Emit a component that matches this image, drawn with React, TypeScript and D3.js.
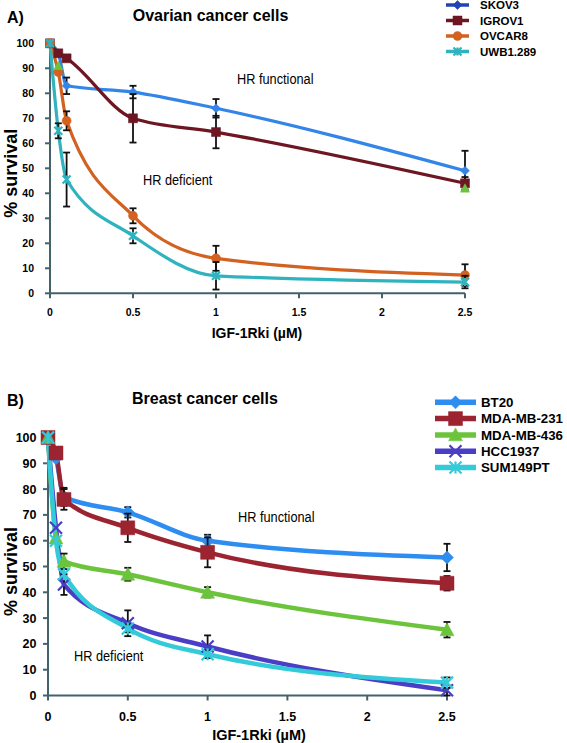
import React from "react";
import * as d3 from "d3";

// ---------- data ----------
const DOSES = [0, 0.05, 0.1, 0.5, 1, 2.5];
const X_TICKS = [0, 0.5, 1, 1.5, 2, 2.5];
const X_TICK_LABELS = ["0", "0.5", "1", "1.5", "2", "2.5"];
const Y_TICKS = [0, 10, 20, 30, 40, 50, 60, 70, 80, 90, 100];

const OVARIAN_TITLE = "Ovarian cancer cells";
const OVARIAN_NAMES = ["SKOV3", "IGROV1", "OVCAR8", "UWB1.289"];
const SKOV3 = [100, 96, 83, 80.5, 74, 49];
const SKOV3_SD = [0, 0, 3.3, 2.5, 3.7, 8];
const IGROV1 = [100, 96, 94, 70, 64.5, 44];
const IGROV1_SD = [0, 0, 0, 9.7, 6.5, 2.5];
const OVCAR8 = [100, 88.5, 69, 31, 14, 7.3];
const OVCAR8_SD = [0, 0, 3.8, 3, 5, 4.3];
const UWB1289 = [100, 65, 45.5, 23, 7, 4.5];
const UWB1289_SD = [0, 3, 10.8, 3, 5.5, 2.5];
const OVARIAN_EXTRA_X = [0.05, 2.5];
const OVARIAN_EXTRA_Y = [91, 42];

const BREAST_TITLE = "Breast cancer cells";
const BREAST_NAMES = ["BT20", "MDA-MB-231", "MDA-MB-436", "HCC1937", "SUM149PT"];
const BT20 = [100, 92, 77, 71, 60, 53.5];
const BT20_SD = [0, 0, 3.5, 2, 2.3, 5.3];
const MDAMB231 = [100, 94, 76, 65, 55.5, 43.5];
const MDAMB231_SD = [0, 0, 4, 5.5, 5.8, 2.8];
const MDAMB436 = [100, 61, 52, 47, 40, 25.5];
const MDAMB436_SD = [0, 0, 3, 2.5, 2, 3];
const HCC1937 = [100, 65, 43, 28, 19, 2];
const HCC1937_SD = [0, 0, 4, 5, 4.3, 2];
const SUM149PT = [100, 60, 47, 26, 16, 5];
const SUM149PT_SD = [0, 0, 0, 1.5, 1.5, 2];

const X_LABEL = "IGF-1Rki (\u00b5M)";
const Y_LABEL = "% survival";
const HR_FUNCTIONAL = "HR functional";
const HR_DEFICIENT = "HR deficient";

// ---------- helpers ----------
type Shape = "diamond" | "square" | "circle" | "triangle" | "x" | "asterisk";

function markerPath(shape: Shape, s: number): string {
  switch (shape) {
    case "diamond":
      return `M0,${-s}L${s},0L0,${s}L${-s},0Z`;
    case "square":
      return `M${-s},${-s}h${2 * s}v${2 * s}h${-2 * s}Z`;
    case "circle":
      return d3.symbol().type(d3.symbolCircle).size(Math.PI * s * s)() as string;
    case "triangle":
      return `M0,${-s}L${s},${s * 0.85}L${-s},${s * 0.85}Z`;
    case "x":
      return `M${-s},${-s}L${s},${s}M${-s},${s}L${s},${-s}`;
    case "asterisk":
      return `M${-s},${-s}L${s},${s}M${-s},${s}L${s},${-s}M0,${-s}L0,${s}`;
  }
}

function Marker({ shape, s, color, x, y }: { shape: Shape; s: number; color: string; x: number; y: number }) {
  const stroked = shape === "x" || shape === "asterisk";
  return (
    <path
      d={markerPath(shape, s)}
      transform={`translate(${x},${y})`}
      fill={stroked ? "none" : color}
      stroke={color}
      strokeWidth={stroked ? 2.2 : 0.5}
    />
  );
}

interface Series {
  name: string;
  values: number[];
  sd: number[];
  color: string;
  legendColor: string;
  shape: Shape;
  size: number;
}

interface PanelProps {
  letter: string;
  title: string;
  series: Series[];
  x0: number;
  x1: number;
  y0: number;
  y100: number;
  lineWidth: number;
  tickFont: number;
  axisFont: number;
  letterY: number;
  titleX: number;
  legendLineX: [number, number];
  legendTextX: number;
  legendY0: number;
  legendStep: number;
  legendFont: number;
  legendLineWidth: number;
  yLabelX: number;
  xLabelX: number;
  xLabelY: number;
  xTickY: number;
  yTickRight: number;
  funcPos: [number, number];
  defPos: [number, number];
  extra?: { xs: number[]; ys: number[]; color: string; shape: Shape; size: number };
}

const AXIS = "#44626a";

function Panel(p: PanelProps) {
  const x = d3.scaleLinear().domain([0, 2.5]).range([p.x0, p.x1]);
  const y = d3.scaleLinear().domain([0, 100]).range([p.y0, p.y100]);
  const line = d3
    .line<number>()
    .x((_, i) => x(DOSES[i]))
    .y((d) => y(d))
    .curve(d3.curveMonotoneX);
  const font = "'Liberation Sans', Arial, Helvetica, sans-serif";
  return (
    <g fontFamily={font}>
      {/* panel letter and title */}
      <text x={7} y={p.letterY} fontSize={16} fontWeight="bold">{p.letter}</text>
      <text x={p.titleX} y={p.letterY - 2} fontSize={16} fontWeight="bold">{p.title}</text>

      {/* axes */}
      <line x1={p.x0} x2={p.x0} y1={p.y0} y2={p.y100} stroke={AXIS} strokeWidth={2} />
      <line x1={p.x0} x2={p.x1} y1={p.y0} y2={p.y0} stroke={AXIS} strokeWidth={2} />
      {Y_TICKS.map((t) => (
        <g key={"yt" + t}>
          <line x1={p.x0 - 5} x2={p.x0} y1={y(t)} y2={y(t)} stroke={AXIS} strokeWidth={2} />
          <text x={p.yTickRight} y={y(t)} dy="0.36em" textAnchor="end" fontSize={p.tickFont} fontWeight="bold">{t}</text>
        </g>
      ))}
      {X_TICKS.map((t, i) => (
        <g key={"xt" + t}>
          <line x1={x(t)} x2={x(t)} y1={p.y0} y2={p.y0 + 5} stroke={AXIS} strokeWidth={2} />
          <text x={x(t)} y={p.xTickY} textAnchor="middle" fontSize={p.tickFont} fontWeight="bold">{X_TICK_LABELS[i]}</text>
        </g>
      ))}
      <text x={p.xLabelX} y={p.xLabelY} textAnchor="middle" fontSize={p.axisFont} fontWeight="bold">{X_LABEL}</text>
      <text
        transform={`translate(${p.yLabelX},${(p.y0 + p.y100) / 2 + 5}) rotate(-90)`}
        textAnchor="middle"
        fontSize={18}
        fontWeight="bold"
      >
        {Y_LABEL}
      </text>

      {/* annotations */}
      <g transform={`translate(${p.funcPos[0]},${p.funcPos[1]}) scale(0.88,1)`}>
        <text x={0} y={0} fontSize={14.5}>{HR_FUNCTIONAL}</text>
      </g>
      <g transform={`translate(${p.defPos[0]},${p.defPos[1]}) scale(0.88,1)`}>
        <text x={0} y={0} fontSize={14.5}>{HR_DEFICIENT}</text>
      </g>

      {/* series */}
      {p.series.map((s) => (
        <g key={s.name}>
          <path d={line(s.values) as string} fill="none" stroke={s.color} strokeWidth={p.lineWidth} strokeLinejoin="round" />
        </g>
      ))}
      {p.series.map((s) => (
        <g key={s.name + "m"}>
          {s.values.map((v, i) =>
            s.sd[i] > 0 ? (
              <g key={i} stroke="#111" strokeWidth={1.8}>
                <line x1={x(DOSES[i])} x2={x(DOSES[i])} y1={y(v - s.sd[i])} y2={y(v + s.sd[i])} />
                <line x1={x(DOSES[i]) - 3.5} x2={x(DOSES[i]) + 3.5} y1={y(v - s.sd[i])} y2={y(v - s.sd[i])} />
                <line x1={x(DOSES[i]) - 3.5} x2={x(DOSES[i]) + 3.5} y1={y(v + s.sd[i])} y2={y(v + s.sd[i])} />
              </g>
            ) : null
          )}
          {s.values.map((v, i) => (
            <Marker key={"k" + i} shape={s.shape} s={s.size} color={s.color} x={x(DOSES[i])} y={y(v)} />
          ))}
        </g>
      ))}
      {p.extra
        ? p.extra.xs.map((xv, i) => (
            <Marker key={"ex" + i} shape={p.extra!.shape} s={p.extra!.size} color={p.extra!.color} x={x(xv)} y={y(p.extra!.ys[i])} />
          ))
        : null}

      {/* legend */}
      {p.series.map((s, i) => {
        const ly = p.legendY0 + i * p.legendStep;
        const cx = (p.legendLineX[0] + p.legendLineX[1]) / 2;
        return (
          <g key={s.name + "lg"}>
            <line x1={p.legendLineX[0]} x2={p.legendLineX[1]} y1={ly} y2={ly} stroke={s.legendColor} strokeWidth={p.legendLineWidth} />
            <Marker shape={s.shape} s={s.size} color={s.legendColor} x={cx} y={ly} />
            <text x={p.legendTextX} y={ly} dy="0.36em" fontSize={p.legendFont} fontWeight="bold">{s.name}</text>
          </g>
        );
      })}
    </g>
  );
}

const OVARIAN_STYLE = [
  { color: "#3385e8", legendColor: "#2143b6", shape: "diamond" as Shape, size: 4.5 },
  { color: "#6d1722", legendColor: "#6d1722", shape: "square" as Shape, size: 4.5 },
  { color: "#d3611f", legendColor: "#d3611f", shape: "circle" as Shape, size: 4.5 },
  { color: "#2fb3be", legendColor: "#2fb3be", shape: "asterisk" as Shape, size: 4 },
];
const OVARIAN_VALUES = [SKOV3, IGROV1, OVCAR8, UWB1289];
const OVARIAN_SD = [SKOV3_SD, IGROV1_SD, OVCAR8_SD, UWB1289_SD];

const BREAST_STYLE = [
  { color: "#2e8df0", legendColor: "#2e8df0", shape: "diamond" as Shape, size: 6.5 },
  { color: "#9b2430", legendColor: "#9b2430", shape: "square" as Shape, size: 7 },
  { color: "#6cc43c", legendColor: "#6cc43c", shape: "triangle" as Shape, size: 7 },
  { color: "#4b3ec6", legendColor: "#4b3ec6", shape: "x" as Shape, size: 6 },
  { color: "#33cbd9", legendColor: "#33cbd9", shape: "asterisk" as Shape, size: 6 },
];
const BREAST_VALUES = [BT20, MDAMB231, MDAMB436, HCC1937, SUM149PT];
const BREAST_SD = [BT20_SD, MDAMB231_SD, MDAMB436_SD, HCC1937_SD, SUM149PT_SD];

export default function App() {
  const ovarian: Series[] = OVARIAN_NAMES.map((name, i) => ({
    name,
    values: OVARIAN_VALUES[i],
    sd: OVARIAN_SD[i],
    ...OVARIAN_STYLE[i],
  }));
  const breast: Series[] = BREAST_NAMES.map((name, i) => ({
    name,
    values: BREAST_VALUES[i],
    sd: BREAST_SD[i],
    ...BREAST_STYLE[i],
  }));
  return (
    <svg
      width={567}
      height={743}
      style={{ position: "absolute", left: 0, top: 0, background: "#fff" }}
    >
      <rect width={567} height={743} fill="#fff" />
      <Panel
        letter="A)"
        title={OVARIAN_TITLE}
        series={ovarian}
        x0={50}
        x1={465}
        y0={293.3}
        y100={43.3}
        lineWidth={3.2}
        tickFont={10.5}
        axisFont={14}
        letterY={22.7}
        titleX={132.7}
        legendLineX={[446, 469]}
        legendTextX={480}
        legendY0={5}
        legendStep={15.5}
        legendFont={11.5}
        legendLineWidth={3.5}
        yLabelX={17}
        xLabelX={257}
        xLabelY={338}
        xTickY={316}
        yTickRight={34}
        funcPos={[237, 84]}
        defPos={[143, 185]}
        extra={{ xs: OVARIAN_EXTRA_X, ys: OVARIAN_EXTRA_Y, color: "#6cc43c", shape: "triangle", size: 4.5 }}
      />
      <Panel
        letter="B)"
        title={BREAST_TITLE}
        series={breast}
        x0={48}
        x1={447}
        y0={695.5}
        y100={437.5}
        lineWidth={4.5}
        tickFont={12.5}
        axisFont={14.5}
        letterY={406}
        titleX={132}
        legendLineX={[435, 476]}
        legendTextX={481}
        legendY0={402.3}
        legendStep={16.3}
        legendFont={13.3}
        legendLineWidth={5.5}
        yLabelX={17}
        xLabelX={259}
        xLabelY={740}
        xTickY={720.5}
        yTickRight={36.5}
        funcPos={[238, 522]}
        defPos={[74, 661]}
      />
    </svg>
  );
}
